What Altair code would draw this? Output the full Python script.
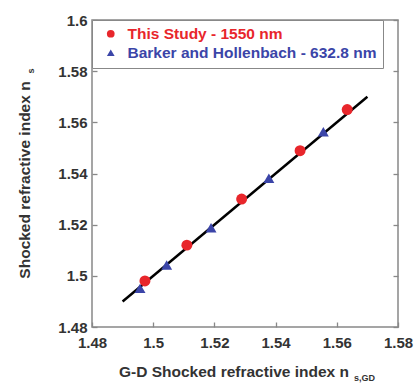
import altair as alt
import pandas as pd

# --- data ---
study_x = [1.4973, 1.5110, 1.5289, 1.5480, 1.5634]
study_y = [1.4980, 1.5120, 1.5300, 1.5489, 1.5650]
barker_x = [1.4957, 1.5044, 1.5189, 1.5378, 1.5556]
barker_y = [1.4951, 1.5042, 1.5188, 1.5381, 1.5563]
fit_x = [1.49, 1.57]
fit_y = [1.49, 1.57]
series_names = ["This Study - 1550 nm", "Barker and Hollenbach - 632.8 nm"]
series_colors = ["#e8262b", "#3b45a8"]
series_shapes = ["circle", "triangle-up"]
ticks = [1.48, 1.50, 1.52, 1.54, 1.56, 1.58, 1.60]
x_ticks = [1.48, 1.50, 1.52, 1.54, 1.56, 1.58]

FONT = "Liberation Sans"
GREY = "#333333"

pts = pd.DataFrame({
    "x": study_x + barker_x,
    "y": study_y + barker_y,
    "series": [series_names[0]] * len(study_x) + [series_names[1]] * len(barker_x),
})
fit = pd.DataFrame({"x": fit_x, "y": fit_y})

xs = alt.Scale(domain=[1.48, 1.58], nice=False, zero=False)
ys = alt.Scale(domain=[1.48, 1.60], nice=False, zero=False)

x_axis = alt.Axis(values=x_ticks, format="~g", title=None, domain=False, grid=False,
                  tickSize=5, offset=-5, labelPadding=8, tickColor="#888", tickWidth=1.3,
                  labelFont=FONT, labelFontSize=15, labelFontWeight="bold", labelColor=GREY,
                  labelFlush=False)
y_axis = alt.Axis(values=ticks, format="~g", title=None, domain=False, grid=False,
                  tickSize=5, offset=-5, labelPadding=5, tickColor="#888", tickWidth=1.3,
                  labelFont=FONT, labelFontSize=15, labelFontWeight="bold", labelColor=GREY,
                  labelFlush=False)
y_axis_r = alt.Axis(values=ticks, orient="right", labels=False, title=None, domain=False,
                    grid=False, tickSize=5, offset=-5, tickColor="#888", tickWidth=1.3)

line = alt.Chart(fit).mark_line(color="black", strokeWidth=2.5).encode(
    x=alt.X("x:Q", scale=xs, axis=x_axis),
    y=alt.Y("y:Q", scale=ys, axis=y_axis),
)

right_ticks = alt.Chart(fit).mark_line(opacity=0).encode(
    x=alt.X("x:Q", scale=xs, axis=x_axis),
    y=alt.Y("y:Q", scale=ys, axis=y_axis_r),
)

legend = alt.Legend(
    title=None, orient="none", legendX=0, legendY=0,
    strokeColor="#888", fillColor="white", padding=6, symbolOffset=5,
    labelOffset=9, rowPadding=2, labelLimit=0,
    labelFont=FONT, labelFontSize=15.5, labelFontWeight="bold",
    labelColor=alt.ExprRef(expr="datum.label == 'This Study - 1550 nm' ? '#e8262b' : '#3b45a8'"),
    symbolSize=60, symbolStrokeWidth=0,
)

points = alt.Chart(pts).mark_point(filled=True, size=120, opacity=1).encode(
    x=alt.X("x:Q", scale=xs, axis=x_axis),
    y=alt.Y("y:Q", scale=ys, axis=None),
    color=alt.Color("series:N", scale=alt.Scale(domain=series_names, range=series_colors), legend=legend),
    shape=alt.Shape("series:N", scale=alt.Scale(domain=series_names, range=series_shapes), legend=legend),
)

x_title = alt.Chart(pd.DataFrame({"t": ["G-D Shocked refractive index n"]})).mark_text(
    font=FONT, fontSize=15.5, fontWeight="bold", color=GREY, align="center", baseline="middle").encode(
    x=alt.value(142), y=alt.value(352), text="t:N")
x_sub = alt.Chart(pd.DataFrame({"t": ["s,GD"]})).mark_text(font=FONT, fontSize=9, fontWeight="bold",
                                        color=GREY, align="left", baseline="top").encode(
    x=alt.value(262), y=alt.value(354), text="t:N")
y_title = alt.Chart(pd.DataFrame({"t": ["Shocked refractive index n"]})).mark_text(
    font=FONT, fontSize=15.5, fontWeight="bold", color=GREY, align="center", baseline="middle",
    angle=270).encode(x=alt.value(-67), y=alt.value(160), text="t:N")
y_sub = alt.Chart(pd.DataFrame({"t": ["s"]})).mark_text(
    font=FONT, fontSize=9, fontWeight="bold", color=GREY, align="center", baseline="middle",
    angle=270).encode(x=alt.value(-61), y=alt.value(51), text="t:N")

chart = alt.layer(line, right_ticks, points, x_title, x_sub, y_title, y_sub).resolve_axis(
    y="independent"
).properties(
    width=306, height=307,
    background="white",
    autosize=alt.AutoSizeParams(type="none"),
    padding={"left": 92, "top": 20, "right": 16, "bottom": 56},
).configure_view(stroke="#888", strokeWidth=1.5)

chart.save("out.html", embed_options={"renderer": "svg", "actions": False})
